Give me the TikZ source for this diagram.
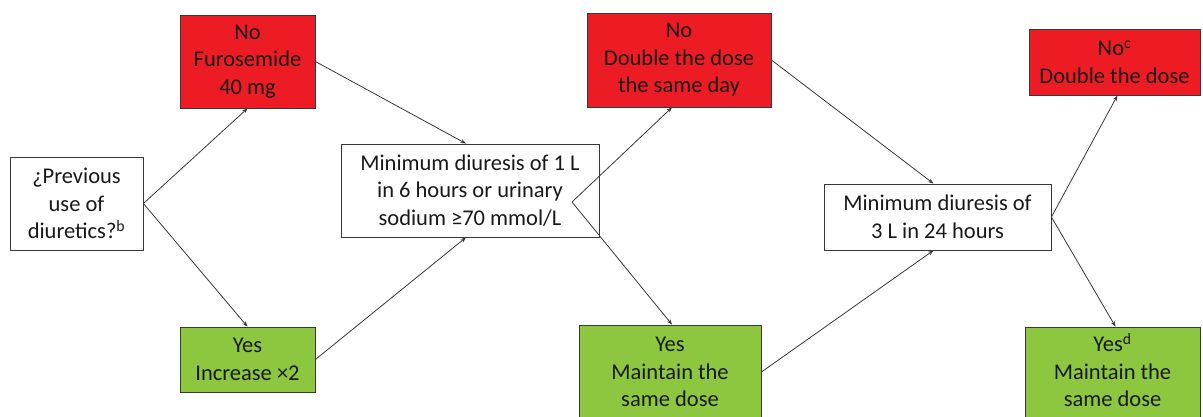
\documentclass[tikz,border=0pt]{standalone}
\usepackage{fontspec}
\setmainfont{Carlito}
\usetikzlibrary{arrows.meta}
\definecolor{boxred}{RGB}{237,28,36}
\definecolor{boxgreen}{RGB}{141,198,63}
\definecolor{linegray}{RGB}{56,56,56}
\begin{document}
\begin{tikzpicture}[x=1pt,y=-1pt,
  txt/.style={inner sep=0pt, align=center, font=\fontsize{22.5}{27.5}\selectfont, text=black!90},
  box/.style={draw=linegray, line width=0.8pt, rectangle, txt},
  whitebox/.style={box, fill=white},
  redbox/.style={box, fill=boxred},
  greenbox/.style={box, fill=boxgreen},
  conn/.style={draw=linegray, line width=0.8pt, -{Stealth[length=5.5pt,width=4pt]}}]
\useasboundingbox (0,0) rectangle (1203,416);
% nodes
\node[whitebox, minimum width=133pt, minimum height=93pt] (prev) at (76.5,203.5)
  {¿Previous\\use of\\diuretics?\textsuperscript{b}};
\node[redbox, minimum width=135pt, minimum height=93pt] (no1) at (247.5,61.5)
  {No\\Furosemide\\40 mg};
\node[greenbox, minimum width=135pt, minimum height=65pt] (yes1) at (247.5,359.5)
  {Yes\\Increase ×2};
\node[whitebox, minimum width=258pt, minimum height=93pt] (min1) at (470,190.5)
  {Minimum diuresis of 1 L\\in 6 hours or urinary\\sodium ≥70 mmol/L};
\node[redbox, minimum width=184pt, minimum height=94pt] (no2) at (679,60)
  {No\\Double the dose\\the same day};
\node[greenbox, minimum width=182pt, minimum height=94pt] (yes2) at (670,372)
  {Yes\\Maintain the\\same dose};
\node[whitebox, minimum width=227pt, minimum height=66pt] (min2) at (937.5,217)
  {Minimum diuresis of\\3 L in 24 hours};
\node[redbox, minimum width=171pt, minimum height=66pt] (no3) at (1114.5,62)
  {No\textsuperscript{c}\\Double the dose};
\node[greenbox, minimum width=175pt, minimum height=94pt,
  label={[txt, yshift=4pt]center:Yes\textsuperscript{d}\\Maintain the\\same dose}] (yes3) at (1112.5,374) {};
\coordinate (split1) at (572,202);
% connectors
\draw[conn] (prev.east) -- (no1.south);
\draw[conn] (prev.east) -- (yes1.north);
\draw[conn] (no1.east) -- ([xshift=-4pt]min1.north);
\draw[conn] (yes1.east) -- ([xshift=-4pt]min1.south);
\draw[conn] (split1) -- ([xshift=-7pt]no2.south);
\draw[conn] (split1) -- ([xshift=2pt]yes2.north);
\draw[conn] (no2.east) -- ([xshift=-4pt]min2.north);
\draw[conn] (yes2.east) -- ([xshift=-4pt]min2.south);
\draw[conn] (min2.east) -- ([xshift=3pt]no3.south);
\draw[conn] (min2.east) -- ([xshift=3pt]yes3.north);
\end{tikzpicture}
\end{document}
